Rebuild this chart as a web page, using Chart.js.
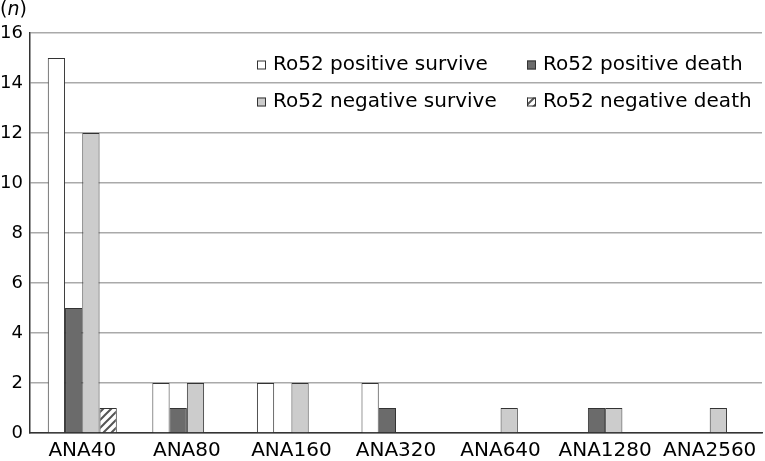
<!DOCTYPE html>
<html>
<head>
<meta charset="utf-8">
<script src="https://cdn.jsdelivr.net/npm/chart.js@4/dist/chart.umd.min.js"></script>
<style>
  html, body { margin: 0; padding: 0; background: #fff; }
  #wrap { width: 765px; height: 461px; position: relative; }
</style>
</head>
<body>
<div id="wrap"><canvas id="myChart" width="765" height="461"></canvas></div>
<script>
const categories = ["ANA40", "ANA80", "ANA160", "ANA320", "ANA640", "ANA1280", "ANA2560"];
const seriesNames = ["Ro52 positive survive", "Ro52 positive death", "Ro52 negative survive", "Ro52 negative death"];
const posSurvive = [15, 2, 2, 2, 0, 0, 0];
const posDeath = [5, 1, 0, 1, 0, 1, 0];
const negSurvive = [12, 2, 2, 0, 1, 1, 1];
const negDeath = [1, 0, 0, 0, 0, 0, 0];
const yTicks = [0, 2, 4, 6, 8, 10, 12, 14, 16];

const FONT = "'DejaVu Sans', Verdana, sans-serif";

// diagonal hatch for the last series
const makeHatch = () => {
    const c = document.createElement("canvas");
    c.width = 8; c.height = 8;
    const g = c.getContext("2d");
    g.fillStyle = "#fff";
    g.fillRect(0, 0, 8, 8);
    g.strokeStyle = "#555";
    g.lineWidth = 2;
    g.beginPath();
    g.moveTo(-2, 10); g.lineTo(10, -2);
    g.moveTo(-2, 2); g.lineTo(2, -2);
    g.moveTo(6, 10); g.lineTo(10, 6);
    g.stroke();
    return g.createPattern(c, "repeat");
}
const hatch = makeHatch();

const fills = ["#ffffff", "#6b6b6b", "#cccccc", hatch];
const values = [posSurvive, posDeath, negSurvive, negDeath];

// legend drawn inside the plot, 2 x 2
const legendInside = {
    id: "legendInside",
    afterDatasetsDraw(chart) {
        const ctx = chart.ctx;
        const cols = [257, 527];
        const rows = [65, 102];
        ctx.save();
        ctx.font = "20px " + FONT;
        ctx.textBaseline = "middle";
        ctx.textAlign = "left";
        seriesNames.forEach((name, i) => {
            const x = cols[i % 2];
            const y = rows[Math.floor(i / 2)];
            ctx.fillStyle = fills[i];
            ctx.fillRect(x, y - 4.5, 9, 9);
            ctx.strokeStyle = "#333";
            ctx.lineWidth = 1;
            ctx.strokeRect(x + 0.5, y - 4, 8, 8);
            ctx.fillStyle = "#000";
            ctx.fillText(name, x + 16, y);
        });
        // axis unit
        ctx.font = "19px " + FONT;
        ctx.fillText("(", 0, 10);
        const w = ctx.measureText("(").width;
        ctx.font = "italic 19px " + FONT;
        ctx.fillText("n", w, 10);
        const w2 = ctx.measureText("n").width;
        ctx.font = "19px " + FONT;
        ctx.fillText(")", w + w2, 10);
        ctx.restore();
    }
};

var ctx = document.getElementById("myChart").getContext("2d");
const chart = new Chart(ctx, {
    type: "bar",
    data: {
        labels: categories,
        datasets: seriesNames.map((name, i) => ({
            label: name,
            data: values[i],
            backgroundColor: fills[i],
            borderColor: "#333",
            borderWidth: 1,
            borderSkipped: "bottom",
            categoryPercentage: 0.66,
            barPercentage: 1
        }))
    },
    options: {
        responsive: false,
        animation: false,
        layout: { padding: { top: 33, right: 3, left: 0, bottom: 0 } },
        plugins: {
            legend: { display: false },
            tooltip: { enabled: false }
        },
        scales: {
            x: {
                grid: { display: false, drawTicks: false },
                border: { color: "#333", width: 1.5 },
                ticks: { color: "#000", font: { family: FONT, size: 20 }, padding: 6, maxRotation: 0 },
                afterFit: (s) => { s.height = 28; }
            },
            y: {
                min: 0,
                max: 16,
                afterBuildTicks: (s) => { s.ticks = yTicks.map(v => ({ value: v })); },
                grid: { color: "#aaa", lineWidth: 1.5, drawTicks: false },
                border: { color: "#333", width: 1.5 },
                ticks: { color: "#000", font: { family: FONT, size: 18 }, padding: 7 },
                afterFit: (s) => { s.width = 30; }
            }
        }
    },
    plugins: [legendInside]
});
</script>
</body>
</html>
